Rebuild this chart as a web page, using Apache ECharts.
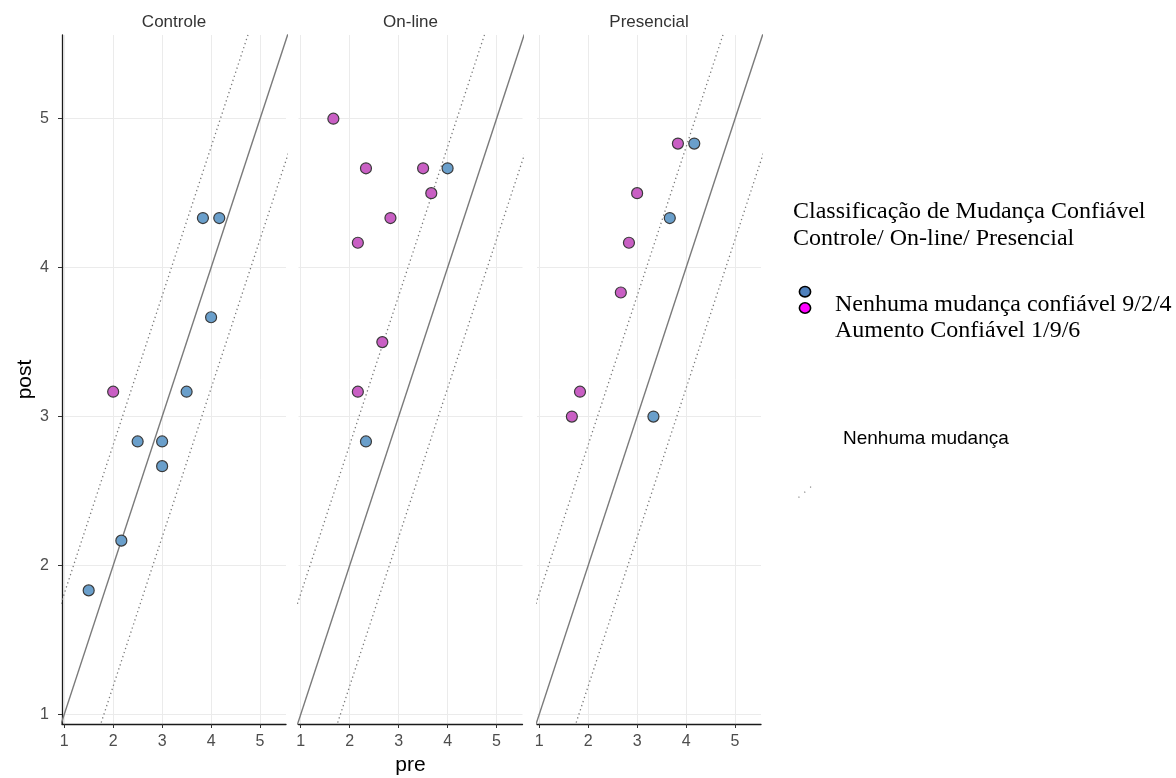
<!DOCTYPE html>
<html>
<head>
<meta charset="utf-8">
<script src="https://cdn.jsdelivr.net/npm/echarts@6/dist/echarts.min.js"></script>
<style>
html,body{margin:0;padding:0;background:#fff;}
#chart{width:1176px;height:778px;}
</style>
</head>
<body>
<div id="chart"></div>
<script>
// ---- data ----
const panels = ['Controle', 'On-line', 'Presencial'];
const tickValues = [1, 2, 3, 4, 5];

const ctrlNoChangePre  = [1.5, 2.167, 2.5, 3.0, 3.0, 3.5, 4.0, 3.833, 4.167];
const ctrlNoChangePost = [1.833, 2.167, 2.833, 2.833, 2.667, 3.167, 3.667, 4.333, 4.333];
const ctrlIncreasePre  = [2.0];
const ctrlIncreasePost = [3.167];

const onlNoChangePre  = [4.0, 2.333];
const onlNoChangePost = [4.667, 2.833];
const onlIncreasePre  = [1.667, 2.333, 3.5, 3.667, 2.833, 2.167, 2.667, 2.167];
const onlIncreasePost = [5.0, 4.667, 4.667, 4.5, 4.333, 4.167, 3.5, 3.167];

const presNoChangePre  = [4.167, 3.667, 3.333];
const presNoChangePost = [4.833, 4.333, 3.0];
const presIncreasePre  = [3.833, 3.0, 2.833, 2.667, 1.833, 1.667];
const presIncreasePost = [4.833, 4.5, 4.167, 3.833, 3.167, 3.0];

// reference lines y = x + offset (identity and reliable-change bands)
const refOffsets = [0, 0.81, -0.81];

const legendTitle = ['Classificação de Mudança Confiável', 'Controle/ On-line/ Presencial'];
const legendItems = ['Nenhuma mudança confiável 9/2/4', 'Aumento Confiável 1/9/6'];
const noteText = 'Nenhuma mudança';

// ---- build ----
const noChange = [[ctrlNoChangePre, ctrlNoChangePost], [onlNoChangePre, onlNoChangePost], [presNoChangePre, presNoChangePost]];
const increase = [[ctrlIncreasePre, ctrlIncreasePost], [onlIncreasePre, onlIncreasePost], [presIncreasePre, presIncreasePost]];
const zip = (a, b) => a.map((v, i) => [v, b[i]]);

const X_MIN = 0.955, X_MAX = 5.53, Y_MIN = 0.936, Y_MAX = 5.562;
const gridLefts = [62, 298.5, 537];
const GRID_W = 224, GRID_TOP = 35, GRID_H = 689;

const grids = [], xAxes = [], yAxes = [], series = [], graphics = [];
const tickLabelStyle = { color: '#4d4d4d', fontSize: 16, fontFamily: 'Liberation Sans, Arial, sans-serif' };

panels.forEach((p, i) => {
  grids.push({ left: gridLefts[i], top: GRID_TOP, width: GRID_W, height: GRID_H, containLabel: false, outerBoundsMode: 'none' });
  xAxes.push({
    type: 'value', gridIndex: i, min: X_MIN, max: X_MAX,
    axisLine: { show: true, onZero: false, lineStyle: { color: '#1a1a1a', width: 1.3 } },
    axisTick: { show: true, length: 4, customValues: tickValues, lineStyle: { color: '#333', width: 1 } },
    axisLabel: { show: true, customValues: tickValues, margin: 10, ...tickLabelStyle },
    splitLine: { show: true, lineStyle: { color: '#ebebeb', width: 1 } },
    name: i === 1 ? 'pre' : '',
    nameLocation: 'middle', nameGap: 31,
    nameTextStyle: { color: '#000', fontSize: 21, fontFamily: 'Liberation Sans, Arial, sans-serif' }
  });
  yAxes.push({
    type: 'value', gridIndex: i, min: Y_MIN, max: Y_MAX,
    axisLine: { show: i === 0, onZero: false, lineStyle: { color: '#1a1a1a', width: 1.3 } },
    axisTick: { show: i === 0, length: 4, customValues: tickValues, lineStyle: { color: '#333', width: 1 } },
    axisLabel: { show: i === 0, customValues: tickValues, margin: 13, ...tickLabelStyle },
    splitLine: { show: true, lineStyle: { color: '#ebebeb', width: 1 } },
    name: i === 0 ? 'post' : '',
    nameLocation: 'middle', nameGap: 26, nameRotate: 90,
    nameTextStyle: { color: '#000', fontSize: 21, fontFamily: 'Liberation Sans, Arial, sans-serif' }
  });

  refOffsets.forEach((off, k) => {
    series.push({
      type: 'line', xAxisIndex: i, yAxisIndex: i, clip: true, silent: true,
      showSymbol: false, symbol: 'none', z: 2,
      data: [[0, 0 + off], [7, 7 + off]],
      lineStyle: k === 0
        ? { color: '#7a7a7a', width: 1.4, type: 'solid' }
        : { color: '#7a7a7a', width: 1.3, type: [1.3, 3] }
    });
  });

  series.push({
    type: 'scatter', name: legendItems[0], xAxisIndex: i, yAxisIndex: i, z: 5,
    symbol: 'circle', symbolSize: 11,
    data: zip(noChange[i][0], noChange[i][1]),
    itemStyle: { color: '#6a9fcb', borderColor: '#3a3a3a', borderWidth: 1.2, opacity: 1 }
  });
  series.push({
    type: 'scatter', name: legendItems[1], xAxisIndex: i, yAxisIndex: i, z: 5,
    symbol: 'circle', symbolSize: 11,
    data: zip(increase[i][0], increase[i][1]),
    itemStyle: { color: '#c95fc4', borderColor: '#3a3a3a', borderWidth: 1.2, opacity: 1 }
  });

  graphics.push({
    type: 'text', silent: true,
    position: [gridLefts[i] + GRID_W / 2, 22],
    style: { text: p, fill: '#333', font: '17px "Liberation Sans", Arial, sans-serif', textAlign: 'center', textVerticalAlign: 'middle' }
  });
});

// legend (annotation on the right)
const serif = '"Liberation Serif", "Times New Roman", serif';
graphics.push(
  { type: 'text', silent: true, position: [793, 212], style: { text: legendTitle[0], fill: '#000', font: '24px ' + serif, textVerticalAlign: 'middle' } },
  { type: 'text', silent: true, position: [793, 238.5], style: { text: legendTitle[1], fill: '#000', font: '24px ' + serif, textVerticalAlign: 'middle' } },
  { type: 'ellipse', silent: true, shape: { cx: 805, cy: 291.7, rx: 5.6, ry: 5.2 }, style: { fill: '#4f81bd', stroke: '#000', lineWidth: 1.6 } },
  { type: 'ellipse', silent: true, shape: { cx: 805, cy: 308, rx: 5.6, ry: 5.2 }, style: { fill: '#ff00ff', stroke: '#000', lineWidth: 1.6 } },
  { type: 'text', silent: true, position: [835, 305], style: { text: legendItems[0], fill: '#000', font: '24px ' + serif, textVerticalAlign: 'middle' } },
  { type: 'text', silent: true, position: [835, 330.5], style: { text: legendItems[1], fill: '#000', font: '24px ' + serif, textVerticalAlign: 'middle' } },
  { type: 'text', silent: true, position: [843, 438.5], style: { text: noteText, fill: '#000', font: '19px "Liberation Sans", Arial, sans-serif', textVerticalAlign: 'middle' } },
  { type: 'line', silent: true, shape: { x1: 798.5, y1: 497.5, x2: 813, y2: 485 }, style: { stroke: '#8a8a8a', lineWidth: 1.2, lineDash: [1.2, 6.5] } }
);

const chart = echarts.init(document.getElementById('chart'), null, { renderer: 'canvas' });
chart.setOption({
  animation: false,
  backgroundColor: '#ffffff',
  grid: grids,
  xAxis: xAxes,
  yAxis: yAxes,
  series: series,
  graphic: graphics
});
</script>
</body>
</html>
